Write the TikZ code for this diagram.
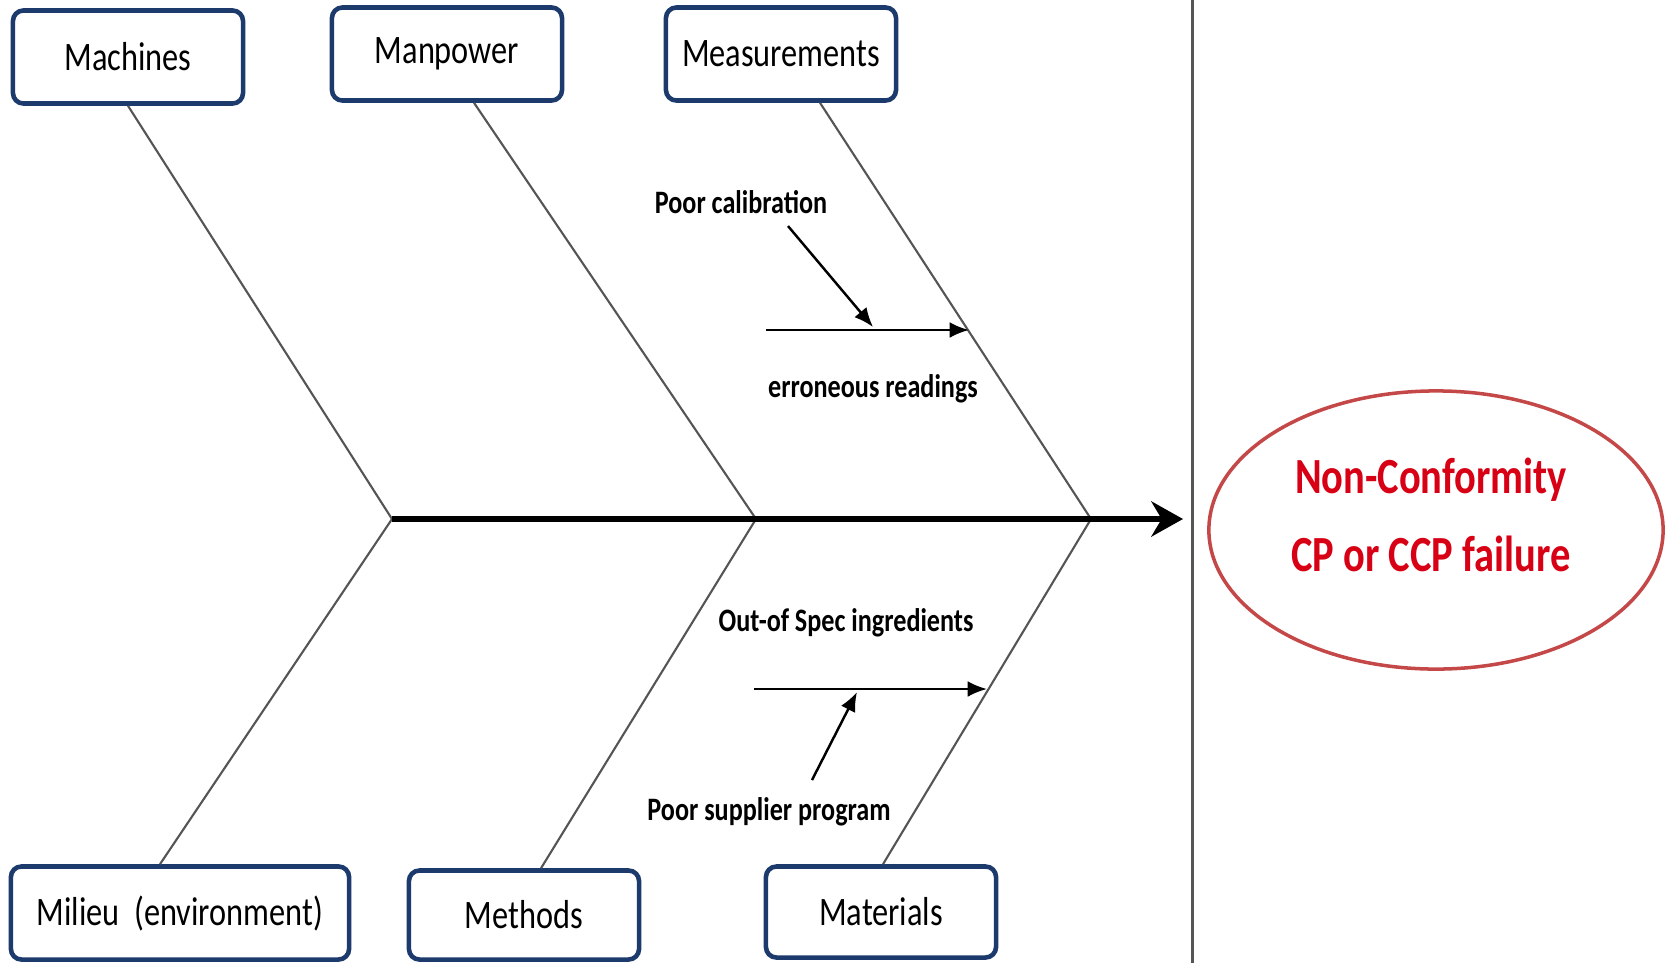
\documentclass[tikz,border=0pt]{standalone}
\usepackage{fontspec}
\setmainfont{Carlito}
\newfontfamily\narrowfont{Carlito}[FakeStretch=0.8]
\usetikzlibrary{shapes.geometric,arrows.meta}

\definecolor{boxblue}{RGB}{28,58,108}
\definecolor{bonegray}{RGB}{85,85,85}
\definecolor{ellred}{RGB}{196,72,72}
\definecolor{textred}{RGB}{215,0,20}

\tikzset{
  causebox/.style={draw=boxblue, line width=1.3pt, rounded corners=3pt, fill=white,
    minimum width=2.30cm, minimum height=0.93cm,
    font=\narrowfont\fontsize{11.5}{13}\selectfont},
  bone/.style={draw=bonegray, line width=0.6pt},
  spine/.style={line width=1.8pt, -{Stealth[length=9pt,width=10pt]}},
  subcause/.style={line width=0.7pt, -{Latex[length=5.5pt,width=4.5pt]}},
  sublabel/.style={font=\narrowfont\bfseries\fontsize{9.3}{11}\selectfont}
}

\begin{document}
\begin{tikzpicture}[x=0.01cm, y=-0.01cm]
    \useasboundingbox (0,0) rectangle (1669,963);

    % Cause boxes (top row)
    \node[causebox] (mach) at (128,57) {Machines};
    \node[causebox] (manp) at (447,54) {Manpower};
    \node[causebox] (meas) at (781,54) {Measurements};

    % Cause boxes (bottom row)
    \node[causebox, minimum width=3.38cm] (mil) at (180,913) {Milieu\ \ (environment)};
    \node[causebox, minimum height=0.89cm] (meth) at (524,915) {Methods};
    \node[causebox, minimum height=0.91cm] (mat) at (881,912) {Materials};

    % Points where the bones meet the spine
    \coordinate (j1) at (392,519);
    \coordinate (j2) at (756,519);
    \coordinate (j3) at (1091,519);
    \coordinate (head) at (1183,519);

    % Bones
    \draw[bone] (mach.south) -- (j1);
    \draw[bone] ([xshift=0.27cm]manp.south) -- (j2);
    \draw[bone] ([xshift=0.39cm]meas.south) -- (j3);
    \draw[bone] ([xshift=-0.20cm]mil.north) -- (j1);
    \draw[bone] ([xshift=0.17cm]meth.north) -- (j2);
    \draw[bone] ([xshift=0.02cm]mat.north) -- (j3);

    % Spine
    \draw[spine] (j1) -- (head);

    % Divider
    \draw[draw=bonegray, line width=0.85pt] (1192,0) -- (1192,963);

    % Effect
    \node[ellipse, draw=ellred, line width=1pt, minimum width=4.54cm, minimum height=2.78cm] (effect) at (1436,530) {};
    \node[align=center, text=textred, font=\narrowfont\bfseries\fontsize{14.4}{22}\selectfont] (efftext) at (1431,515) {Non-Conformity\\CP or CCP failure};

    % Sub-causes on Measurements
    \coordinate (err0) at (766,330);
    \coordinate (err1) at (969,330);
    \draw[subcause] (err0) -- (err1);
    \node[sublabel] (calib) at (741,202) {Poor calibration};
    \node[sublabel] (errread) at (873,389) {erroneous readings};
    \coordinate (calibhit) at (873,327);
    \draw[subcause] (calib.south -| 788,0) -- (calibhit);

    % Sub-causes on Materials
    \coordinate (spec0) at (754,689);
    \coordinate (spec1) at (987,689);
    \draw[subcause] (spec0) -- (spec1);
    \node[sublabel] (spec) at (846,623) {Out-of Spec ingredients};
    \node[sublabel] (supp) at (769,812) {Poor supplier program};
    \coordinate (supphit) at (857,692);
    \draw[subcause] (812,780) -- (supphit);
\end{tikzpicture}
\end{document}
